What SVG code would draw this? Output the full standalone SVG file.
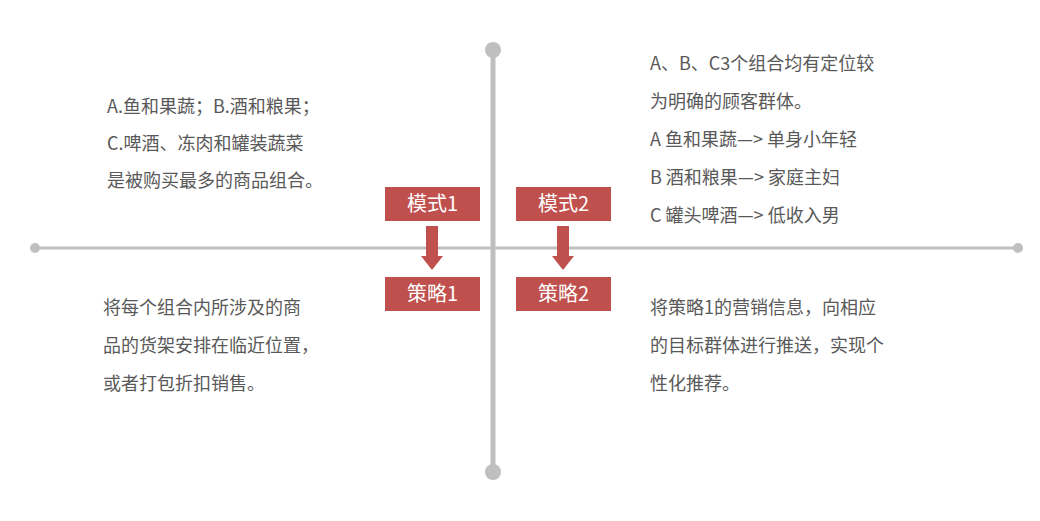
<svg xmlns="http://www.w3.org/2000/svg" width="1040" height="521" viewBox="0 0 1040 521">
<style>
.t{font-family:"Noto Sans CJK SC","Liberation Sans",sans-serif;font-size:18px;fill:#595959}
.b{fill:#c0504d}
.bt{font-family:"Noto Sans CJK SC","Liberation Sans",sans-serif;font-size:20px;fill:#fff;text-anchor:middle}
</style>
<rect width="1040" height="521" fill="#fff"/>
<g id="axes" fill="#bfbfbf" stroke="#bfbfbf">
<line x1="35" y1="248" x2="1018" y2="248" stroke-width="3"/>
<circle cx="35" cy="248" r="5" stroke="none"/>
<circle cx="1018" cy="248" r="5" stroke="none"/>
<line x1="493" y1="50" x2="493" y2="472" stroke-width="5"/>
<circle cx="493" cy="50" r="8" stroke="none"/>
<circle cx="493" cy="472" r="8" stroke="none"/>
</g>
<g id="connectors" class="b">
<polygon points="426,226 438,226 438,256 443,256 432,270 421,256 426,256"/>
<polygon points="557,226 569,226 569,256 574,256 563,270 552,256 557,256"/>
</g>
<g id="mode1"><rect class="b" x="385" y="187" width="95" height="34"/><text class="bt" x="432.5" y="211">模式1</text></g>
<g id="mode2"><rect class="b" x="516" y="187" width="95" height="34"/><text class="bt" x="563.5" y="211">模式2</text></g>
<g id="strategy1"><rect class="b" x="385" y="277" width="95" height="34"/><text class="bt" x="432.5" y="301">策略1</text></g>
<g id="strategy2"><rect class="b" x="516" y="277" width="95" height="34"/><text class="bt" x="563.5" y="301">策略2</text></g>
<g id="tl" class="t">
<text x="107" y="113">A.鱼和果蔬；B.酒和粮果；</text>
<text x="107" y="150">C.啤酒、冻肉和罐装蔬菜</text>
<text x="107" y="187">是被购买最多的商品组合。</text>
</g>
<g id="tr" class="t">
<text x="650" y="70">A、B、C3个组合均有定位较</text>
<text x="650" y="108">为明确的顾客群体。</text>
<text x="650" y="146">A 鱼和果蔬—&gt; 单身小年轻</text>
<text x="650" y="184">B 酒和粮果—&gt; 家庭主妇</text>
<text x="650" y="222">C 罐头啤酒—&gt; 低收入男</text>
</g>
<g id="bl" class="t">
<text x="103" y="314">将每个组合内所涉及的商</text>
<text x="103" y="352">品的货架安排在临近位置，</text>
<text x="103" y="390">或者打包折扣销售。</text>
</g>
<g id="br" class="t">
<text x="650" y="314">将策略1的营销信息，向相应</text>
<text x="650" y="352">的目标群体进行推送，实现个</text>
<text x="650" y="390">性化推荐。</text>
</g>
</svg>
